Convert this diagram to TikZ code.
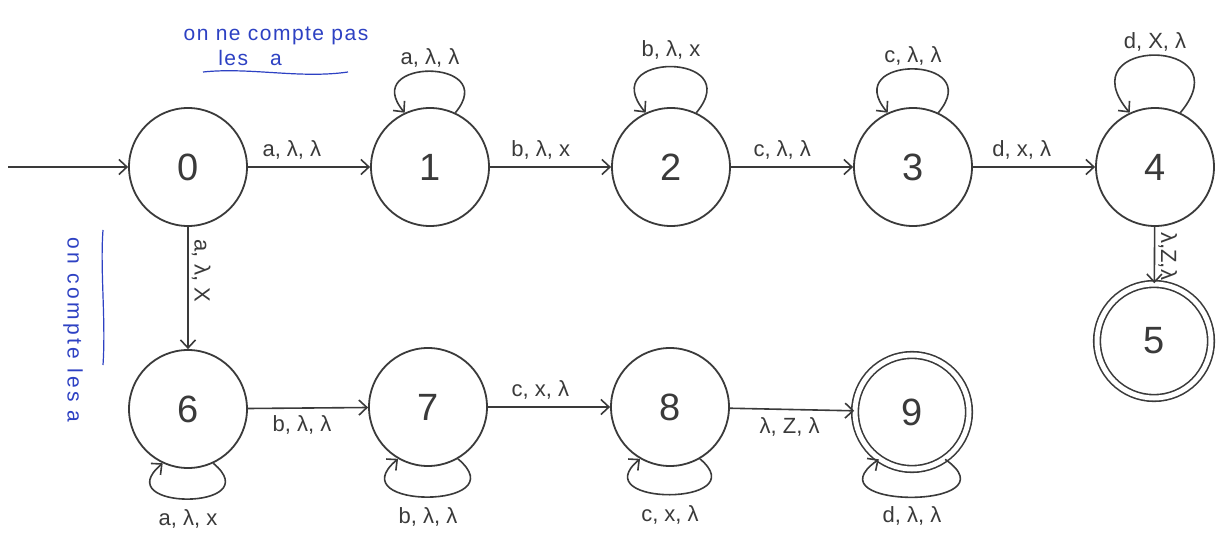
\documentclass[tikz,border=0pt]{standalone}
\usepackage{fontspec}
\setmainfont{Liberation Sans}
\usetikzlibrary{arrows.meta}
\definecolor{ink}{RGB}{58,58,58}
\definecolor{blueink}{RGB}{45,65,195}
\begin{document}
\begin{tikzpicture}[x=1pt,y=1pt,
  st/.style={circle,draw=ink,line width=1.8pt,minimum size=118pt,inner sep=0pt,
             font=\fontsize{38}{40}\selectfont,text=ink},
  acc/.style={st,double,double distance=5pt,line width=1.6pt,minimum size=114pt},
  arr/.style={draw=ink,line width=1.6pt,
              -{Straight Barb[length=8pt,width=15pt,line width=1.6pt]}},
  lab/.style={font=\fontsize{22}{24}\selectfont,text=ink,inner sep=3pt},
  toplab/.style={lab,above,yshift=4pt},
  botlab/.style={lab,below,yshift=-4pt},
  looplabdown/.style={lab,below,yshift=-7pt},
  note/.style={font=\fontsize{21}{23}\selectfont\addfontfeatures{LetterSpace=7},
               text=blueink,inner sep=1pt},
  vnote/.style={font=\fontsize{21}{23}\selectfont\addfontfeatures{LetterSpace=16},
               text=blueink,inner sep=1pt},
  uline/.style={draw=blueink,line width=1.2pt}]
\fill[white] (0,0) rectangle (1224,-540);
\useasboundingbox (0,0) rectangle (1224,-540);

% states
\node[st]  (n0) at (188,-167) {0};
\node[st]  (n1) at (430,-167) {1};
\node[st]  (n2) at (671,-167) {2};
\node[st]  (n3) at (913,-167) {3};
\node[st]  (n4) at (1155,-167) {4};
\node[acc] (n5) at (1154,-341) {5};
\node[st]  (n6) at (188,-409) {6};
\node[st]  (n7) at (428,-407) {7};
\node[st]  (n8) at (670,-407) {8};
\node[acc] (n9) at (912,-412) {9};

% initial arrow
\coordinate (start) at (8,-167);
\draw[arr] (start) -- (n0);

% transitions
\draw[arr] (n0) -- node[toplab,pos=0.36] {a, λ, λ} (n1);
\draw[arr] (n1) -- node[toplab,pos=0.42] {b, λ, x} (n2);
\draw[arr] (n2) -- node[toplab,pos=0.42] {c, λ, λ} (n3);
\draw[arr] (n3) -- node[toplab,pos=0.4] {d, x, λ} (n4);
\draw[arr] (n4) -- node[lab,pos=0.52,rotate=-90,anchor=south,inner sep=3pt] {λ,Z,λ} (n5);
\draw[arr] (n0) -- node[lab,pos=0.36,rotate=-90,anchor=south] {a, λ, X} (n6);
\draw[arr] (n6) -- node[botlab,pos=0.45] {b, λ, λ} (n7);
\draw[arr] (n7) -- node[toplab,pos=0.43] {c, x, λ} (n8);
\draw[arr] (n8) -- node[botlab,pos=0.48] {λ, Z, λ} (n9);

% self loops (top)
\draw[arr] (n1.65) to[out=50,in=130,distance=72pt] node[lab,above] {a, λ, λ} (n1.115);
\draw[arr] (n2.65) to[out=50,in=130,distance=80pt] node[lab,above,yshift=4pt] {b, λ, x} (n2.115);
\draw[arr] (n3.65) to[out=50,in=130,distance=76pt] node[lab,above] {c, λ, λ} (n3.115);
\draw[arr] (n4.65) to[out=50,in=130,distance=100pt] node[lab,above] {d, X, λ} (n4.115);

% self loops (bottom)
\draw[arr] (n6.-65) to[out=-40,in=-140,distance=74pt] node[looplabdown] {a, λ, x} (n6.-115);
\draw[arr] (n7.-60) to[out=-40,in=-140,distance=79pt] node[looplabdown] {b, λ, λ} (n7.-120);
\draw[arr] (n8.-60) to[out=-40,in=-140,distance=74pt] node[looplabdown] {c, x, λ} (n8.-120);
\draw[arr] (n9.-55) to[out=-35,in=-145,distance=88pt] node[lab,below,yshift=-6pt] {d, λ, λ} (n9.-125);

% blue annotations
\node[note] (t1) at (276,-36) {on ne compte pas};
\node[note] (t2) at (250,-58) {les\hspace{22pt}a};
\coordinate (u1) at (203,-72);
\coordinate (u2) at (348,-72);
\draw[uline] (u1) .. controls (250,-67) and (300,-79) .. (u2);

\node[vnote,rotate=-90] (t3) at (73,-330) {on compte les a};
\coordinate (v1) at (103,-230);
\coordinate (v2) at (103,-365);
\draw[uline] (v1) .. controls (100,-270) and (106,-320) .. (v2);
\end{tikzpicture}
\end{document}
